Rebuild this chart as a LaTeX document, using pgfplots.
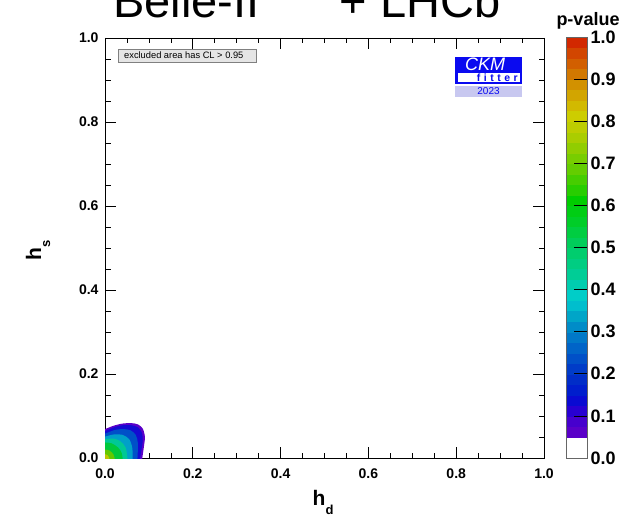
\documentclass[border=0pt]{standalone}
\usepackage{fontspec}
\setmainfont{Liberation Sans}
\usepackage{pgfplots}
\pgfplotsset{compat=1.18}
\definecolor{cA}{RGB}{90,0,200}
\definecolor{cB}{RGB}{20,10,210}
\definecolor{cC}{RGB}{0,80,200}
\definecolor{cD}{RGB}{0,160,200}
\definecolor{cE}{RGB}{0,200,150}
\definecolor{cF}{RGB}{0,200,60}
\definecolor{cG}{RGB}{100,200,0}
\definecolor{cH}{RGB}{190,200,0}
\definecolor{ckmblue}{RGB}{10,10,240}
\definecolor{ckmlav}{RGB}{200,200,240}
\begin{document}
\begin{tikzpicture}[x=1pt,y=1pt]
\begin{axis}[at={(105pt,59pt)}, anchor=south west, scale only axis,
  width=439pt, height=420pt, xmin=0, xmax=1, ymin=0, ymax=1,
  xtick={0,0.2,0.4,0.6,0.8,1}, ytick={0,0.2,0.4,0.6,0.8,1},
  minor tick num=3, tick align=inside,
  major tick length=11pt, minor tick length=5.5pt,
  axis line style={line width=0.8pt}, tick style={line width=0.7pt, black},
  ticklabel style={font=\bfseries\fontsize{14}{16}\selectfont},
  xticklabel style={yshift=-7pt},
  yticklabel style={xshift=-3pt},
  /pgf/number format/.cd, fixed, fixed zerofill, precision=1, assume math mode=true]
\addplot[fill=cA, draw=none, smooth] coordinates {(-0.01,0.068) (0,0.069) (0.02,0.077) (0.04,0.082) (0.06,0.083) (0.075,0.080) (0.086,0.07) (0.091,0.05) (0.089,0.03) (0.085,0.0) (0.084,-0.01)} -- (-0.01,-0.01) -- cycle;
\addplot[fill=cB, draw=none, smooth] coordinates {(-0.01,0.063) (0,0.064) (0.02,0.073) (0.04,0.078) (0.06,0.078) (0.075,0.073) (0.084,0.06) (0.086,0.04) (0.083,0.02) (0.080,0) (0.079,-0.01)} -- (-0.01,-0.01) -- cycle;
\addplot[fill=cC, draw=none, smooth] coordinates {(-0.01,0.057) (0,0.058) (0.02,0.066) (0.04,0.069) (0.058,0.066) (0.070,0.055) (0.075,0.035) (0.074,0) (0.074,-0.01)} -- (-0.01,-0.01) -- cycle;
\addplot[fill=cD, draw=none, smooth] coordinates {(-0.01,0.050) (0,0.051) (0.02,0.056) (0.04,0.055) (0.055,0.045) (0.062,0.025) (0.063,0) (0.063,-0.01)} -- (-0.01,-0.01) -- cycle;
\addplot[fill=cE, draw=none, smooth] coordinates {(-0.01,0.045) (0,0.045) (0.02,0.046) (0.035,0.040) (0.047,0.025) (0.051,0) (0.051,-0.01)} -- (-0.01,-0.01) -- cycle;
\addplot[fill=cF, draw=none, smooth] coordinates {(-0.01,0.037) (0,0.037) (0.015,0.035) (0.03,0.025) (0.038,0.012) (0.040,0) (0.040,-0.01)} -- (-0.01,-0.01) -- cycle;
\addplot[fill=cG, draw=none, smooth] coordinates {(-0.01,0.020) (0,0.020) (0.010,0.018) (0.019,0.009) (0.022,0) (0.022,-0.01)} -- (-0.01,-0.01) -- cycle;
\addplot[fill=cH, draw=none, smooth] coordinates {(-0.01,0.009) (0,0.009) (0.006,0.007) (0.010,0) (0.010,-0.01)} -- (-0.01,-0.01) -- cycle;
\end{axis}
\begin{axis}[at={(566pt,59pt)}, anchor=south west, scale only axis,
  width=21pt, height=421pt, xmin=0, xmax=1, ymin=0, ymax=1,
  xtick=\empty, ytick={0,0.1,0.2,0.3,0.4,0.5,0.6,0.7,0.8,0.9,1.0},
  ytick pos=right, yticklabel pos=right, tick align=inside,
  major tick length=13pt, axis line style={line width=0.6pt, black!60},
  tick style={line width=0.7pt, black},
  ticklabel style={font=\bfseries\fontsize{18}{20}\selectfont},
  point meta min=0, point meta max=1,
  colormap={pv}{rgb255=(255,255,255) rgb255=(255,255,255) rgb255=(90,0,200) rgb255=(70,0,205) rgb255=(40,0,210) rgb255=(10,10,210) rgb255=(0,30,205) rgb255=(0,45,200) rgb255=(0,60,200) rgb255=(0,80,200) rgb255=(0,100,200) rgb255=(0,120,200) rgb255=(0,140,200) rgb255=(0,165,200) rgb255=(0,190,205) rgb255=(0,205,200) rgb255=(0,205,175) rgb255=(0,205,150) rgb255=(0,205,130) rgb255=(0,205,110) rgb255=(0,205,90) rgb255=(0,205,65) rgb255=(0,205,40) rgb255=(0,205,20) rgb255=(0,205,0) rgb255=(40,205,0) rgb255=(70,205,0) rgb255=(100,205,0) rgb255=(120,205,0) rgb255=(145,205,0) rgb255=(170,205,0) rgb255=(190,205,0) rgb255=(205,205,0) rgb255=(210,185,0) rgb255=(210,165,0) rgb255=(210,145,0) rgb255=(210,120,0) rgb255=(210,95,0) rgb255=(210,70,0) rgb255=(210,40,0) rgb255=(210,20,0)},
  axis on top,
  /pgf/number format/.cd, fixed, fixed zerofill, precision=1, assume math mode=true]
\addplot[surf, shader=flat corner, mesh/cols=2, point meta=y] coordinates {
(0,0) (1,0) (0,0.025) (1,0.025) (0,0.05) (1,0.05) (0,0.075) (1,0.075)
(0,0.1) (1,0.1) (0,0.125) (1,0.125) (0,0.15) (1,0.15) (0,0.175) (1,0.175)
(0,0.2) (1,0.2) (0,0.225) (1,0.225) (0,0.25) (1,0.25) (0,0.275) (1,0.275)
(0,0.3) (1,0.3) (0,0.325) (1,0.325) (0,0.35) (1,0.35) (0,0.375) (1,0.375)
(0,0.4) (1,0.4) (0,0.425) (1,0.425) (0,0.45) (1,0.45) (0,0.475) (1,0.475)
(0,0.5) (1,0.5) (0,0.525) (1,0.525) (0,0.55) (1,0.55) (0,0.575) (1,0.575)
(0,0.6) (1,0.6) (0,0.625) (1,0.625) (0,0.65) (1,0.65) (0,0.675) (1,0.675)
(0,0.7) (1,0.7) (0,0.725) (1,0.725) (0,0.75) (1,0.75) (0,0.775) (1,0.775)
(0,0.8) (1,0.8) (0,0.825) (1,0.825) (0,0.85) (1,0.85) (0,0.875) (1,0.875)
(0,0.9) (1,0.9) (0,0.925) (1,0.925) (0,0.95) (1,0.95) (0,0.975) (1,0.975)
(0,1) (1,1)};
\end{axis}
% titles and labels
\node[anchor=base west, inner sep=0, font=\fontsize{47}{50}\selectfont] at (113,499) {Belle-II};
\node[anchor=base west, inner sep=0, font=\fontsize{47}{50}\selectfont] at (339.5,499) {+ LHCb};
\node[anchor=base, inner sep=0, font=\bfseries\fontsize{18}{20}\selectfont] at (588,491) {p-value};
\node[anchor=base west, inner sep=0, font=\bfseries\fontsize{21}{24}\selectfont] at (312.5,12) {h\raisebox{-9pt}{\fontsize{13}{14}\selectfont d}};
\node[anchor=base west, inner sep=0, rotate=90, font=\bfseries\fontsize{21}{24}\selectfont] at (41,256) {h\raisebox{-9pt}{\fontsize{13}{14}\selectfont s}};
% legend box
\draw[black!50, fill=black!10, line width=0.5pt] (118,455) rectangle (256,468);
\node[anchor=west, inner sep=0, font=\fontsize{9.3}{10}\selectfont] at (124,461.5) {excluded area has CL > 0.95};
% CKMfitter logo
\fill[ckmblue] (455,433) rectangle (522,460);
\fill[white] (457.5,435) rectangle (519.5,444);
\node[inner sep=0, text=ckmblue, font=\bfseries\fontsize{10.5}{12}\selectfont, anchor=east] at (518,439.5) {f\,\,i\,\,t\,\,t\,\,e\,\,r};
\node[inner sep=0, text=white, font=\itshape\fontsize{18}{20}\selectfont] at (485,452.5) {CKM};
\fill[ckmlav] (455,420) rectangle (522,431);
\node[inner sep=0, text=ckmblue, font=\fontsize{10}{11}\selectfont] at (488.5,425.5) {2023};
\pgfresetboundingbox
\path[use as bounding box] (0,0) rectangle (623,517);
\end{tikzpicture}
\end{document}
